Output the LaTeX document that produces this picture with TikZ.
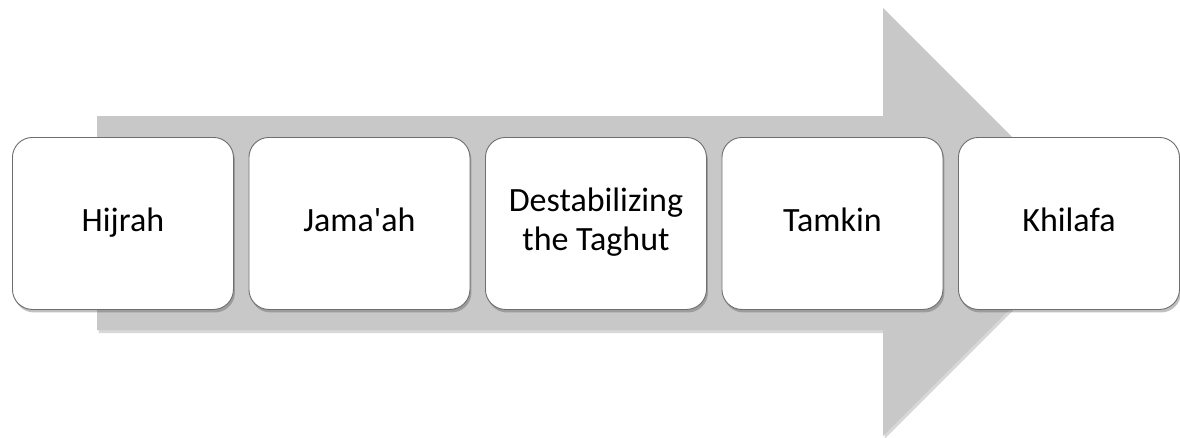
\documentclass[tikz,border=0pt]{standalone}
\usepackage{fontspec}
\setmainfont{Carlito}
\usetikzlibrary{shadows}
\definecolor{arrowgray}{HTML}{C8C8C8}
\definecolor{boxline}{HTML}{6E6E6E}
\tikzset{
  stepbox/.style={draw=boxline, line width=0.9pt, fill=white, rounded corners=20pt,
    minimum width=221pt, minimum height=172pt, anchor=north west, align=center,
    font=\fontsize{34}{39}\selectfont, inner sep=0pt,
    drop shadow={shadow xshift=1.5pt, shadow yshift=-3pt, opacity=0.35, fill=black!70}},
  bigarrow/.style={fill=arrowgray, draw=none,
    drop shadow={shadow xshift=1.5pt, shadow yshift=-3pt, opacity=0.25, fill=black!60}}
}
\begin{document}
\begin{tikzpicture}[x=1pt,y=-1pt]
\useasboundingbox (0,0) rectangle (1180,437);
\fill[white] (0,0) rectangle (1180,437);
\path[bigarrow] (97,116) -- (883,116) -- (883,8) -- (1097,222) -- (883,436) -- (883,330) -- (97,330) -- cycle;
\node[stepbox] (s1) at (12,137) {\strut Hijrah};
\node[stepbox] (s2) at (248.5,137) {\strut Jama\textquotesingle ah};
\node[stepbox] (s3) at (485,137) {\strut Destabilizing\\\strut the Taghut};
\node[stepbox] (s4) at (721.5,137) {\strut Tamkin};
\node[stepbox] (s5) at (958,137) {\strut Khilafa};
\end{tikzpicture}
\end{document}
